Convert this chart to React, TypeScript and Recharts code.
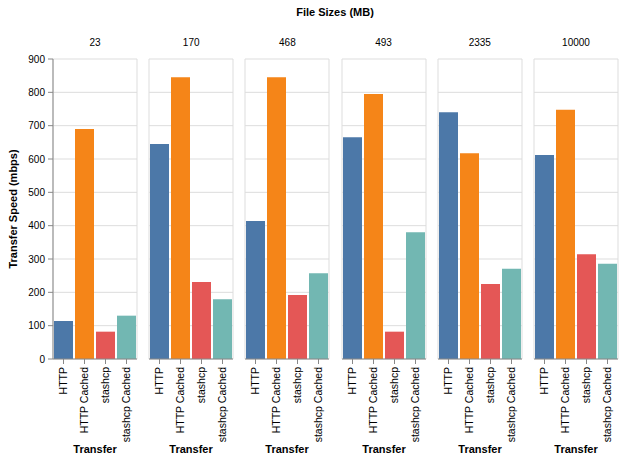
import { BarChart, Bar, XAxis, YAxis, CartesianGrid, Cell, Label } from 'recharts';

const fileSizes = ['23', '170', '468', '493', '2335', '10000'];
const transfers = ['HTTP', 'HTTP Cached', 'stashcp', 'stashcp Cached'];
const httpSpeed = [114, 645, 414, 665, 740, 612];
const httpCachedSpeed = [690, 845, 845, 795, 617, 748];
const stashcpSpeed = [82, 231, 192, 82, 225, 314];
const stashcpCachedSpeed = [130, 179, 257, 380, 271, 286];
const yTicks = [0, 100, 200, 300, 400, 500, 600, 700, 800, 900];
const colors = ['#4c78a8', '#f58518', '#e45756', '#72b7b2'];

const series = [httpSpeed, httpCachedSpeed, stashcpSpeed, stashcpCachedSpeed];

const FONT = '"Liberation Sans", Arial, Helvetica, sans-serif';
const PLOT_TOP = 59;
const PLOT_H = 300;
const PLOT_W = 84;
const AXIS_W = 53;
const STEP = 96.2;
const X_AXIS_H = 97;
const CHART_H = 462;

const XTick = ({ x, y, payload }: any) => (
  <text
    x={x}
    y={y}
    dy={3.7}
    transform={`rotate(-90 ${x} ${y})`}
    textAnchor="end"
    fontSize={10.5}
    fontFamily={FONT}
    fill="#000"
  >
    {payload.value}
  </text>
);

const YTitle = ({ viewBox }: any) => {
  const cx = viewBox.x + 17;
  const cy = viewBox.y + viewBox.height / 2;
  return (
    <text
      x={cx}
      y={cy}
      transform={`rotate(-90 ${cx} ${cy})`}
      textAnchor="middle"
      fontSize={11}
      fontWeight="bold"
      fontFamily={FONT}
      fill="#000"
    >
      Transfer Speed (mbps)
    </text>
  );
};

function Facet({ index }: { index: number }) {
  const first = index === 0;
  const data = transfers.map((t, j) => ({ transfer: t, speed: series[j][index] }));
  const x0 = AXIS_W + STEP * index;
  const leftPad = first ? 0 : 2;
  const width = (first ? AXIS_W : leftPad) + PLOT_W + 2;
  const left = first ? 0 : x0 - leftPad;

  return (
    <div style={{ position: 'absolute', left, top: 0 }}>
      <div
        style={{
          position: 'absolute',
          left: first ? AXIS_W : leftPad,
          width: PLOT_W,
          top: 37,
          lineHeight: '12px',
          fontSize: 10,
          textAlign: 'center',
          color: '#000',
        }}
      >
        {fileSizes[index]}
      </div>
      <BarChart
        width={width}
        height={CHART_H}
        data={data}
        margin={{ top: PLOT_TOP, right: 2, left: leftPad, bottom: CHART_H - PLOT_TOP - PLOT_H - X_AXIS_H }}
        barCategoryGap={1}
      >
        <CartesianGrid
          stroke="#ddd"
          vertical
          verticalCoordinatesGenerator={({ offset }: any) => [offset.left, offset.left + offset.width]}
        />
        <XAxis
          dataKey="transfer"
          interval={0}
          height={X_AXIS_H}
          tick={<XTick />}
          tickSize={5}
          tickMargin={3}
          axisLine={{ stroke: '#888' }}
          tickLine={{ stroke: '#888' }}
        >
          <Label value="Transfer" position="insideBottom" offset={3} fontSize={11} fontWeight="bold" fill="#000" fontFamily={FONT} />
        </XAxis>
        <YAxis
          hide={!first}
          width={AXIS_W}
          domain={[0, 900]}
          ticks={yTicks}
          interval={0}
          tickSize={5}
          tickMargin={3}
          axisLine={{ stroke: '#888' }}
          tickLine={{ stroke: '#888' }}
          tick={{ fontSize: 10, fill: '#000', fontFamily: FONT }}
        >
          {first && <Label content={<YTitle />} />}
        </YAxis>
        <Bar dataKey="speed" isAnimationActive={false}>
          {data.map((d, j) => (
            <Cell key={d.transfer} fill={colors[j]} />
          ))}
        </Bar>
      </BarChart>
    </div>
  );
}

export default function App() {
  return (
    <div
      style={{
        position: 'absolute',
        left: 0,
        top: 0,
        width: 623,
        height: 462,
        background: '#fff',
        fontFamily: FONT,
      }}
    >
      <div
        style={{
          position: 'absolute',
          left: 0,
          width: 670,
          top: 5,
          lineHeight: '14px',
          fontSize: 11,
          fontWeight: 'bold',
          textAlign: 'center',
          color: '#000',
        }}
      >
        File Sizes (MB)
      </div>
      {fileSizes.map((s, i) => (
        <Facet key={s} index={i} />
      ))}
    </div>
  );
}
